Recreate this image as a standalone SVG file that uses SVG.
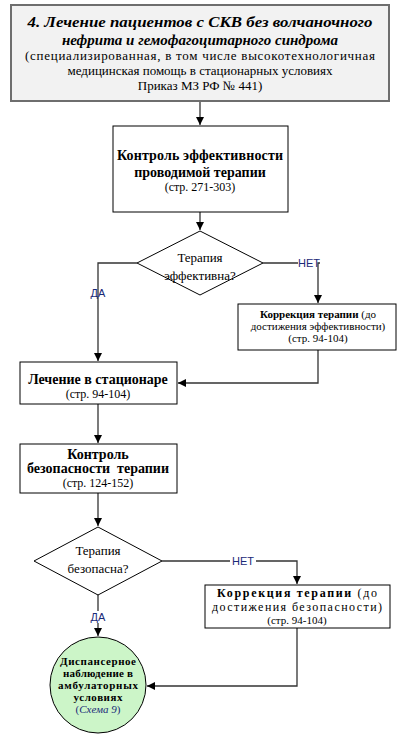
<svg xmlns="http://www.w3.org/2000/svg" width="398" height="739" viewBox="0 0 398 739">
<style>
text{font-family:"Liberation Serif","DejaVu Serif",serif;fill:#000;text-anchor:middle}
.b{font-weight:bold}
.t{font-size:15px;font-weight:bold;font-style:italic}
.s{font-size:13px}
.s2{font-size:12px}
.m{font-size:14px}
.sm{font-size:12px}
.xs{font-size:11px}
.c{font-size:11px}
.lbl{font-family:"Liberation Sans","DejaVu Sans",sans-serif;font-size:11px;fill:#1a2a78}
.box{fill:#fff;stroke:#000;stroke-width:1}
.ln{fill:none;stroke:#333;stroke-width:1.3}
</style>
<defs>
<marker id="ah" viewBox="0 0 10 10" refX="10" refY="5" markerWidth="8" markerHeight="8" markerUnits="userSpaceOnUse" orient="auto">
<path d="M0,0 L10,5 L0,10 z" fill="#000"/>
</marker>
</defs>
<g id="connectors">
<path class="ln" d="M200,101 V125" marker-end="url(#ah)"/>
<path class="ln" d="M200,212 V230" marker-end="url(#ah)"/>
<path class="ln" d="M137,263 H98 V361" marker-end="url(#ah)"/>
<path class="ln" d="M263,263 H298 M320,263 H318 V303" marker-end="url(#ah)"/>
<path class="ln" d="M318,350 V383 H178" marker-end="url(#ah)"/>
<path class="ln" d="M98,404 V443" marker-end="url(#ah)"/>
<path class="ln" d="M98,493 V526" marker-end="url(#ah)"/>
<path class="ln" d="M162,561 H230 M256,561 H297 V584" marker-end="url(#ah)"/>
<path class="ln" d="M98,594 V611 M98,623 V636" marker-end="url(#ah)"/>
<path class="ln" d="M297,628 V686 H147" marker-end="url(#ah)"/>
<text class="lbl" x="98" y="297">ДА</text>
<text class="lbl" x="309" y="267">НЕТ</text>
<text class="lbl" x="243" y="565">НЕТ</text>
<text class="lbl" x="98" y="621">ДА</text>
</g>
<g id="title">
<rect x="11" y="5" width="378" height="96" fill="#f2f2f2" stroke="#6e6e6e" stroke-width="2"/>
<text class="t" x="200" y="27" textLength="345" lengthAdjust="spacingAndGlyphs">4. Лечение пациентов с СКВ без волчаночного</text>
<text class="t" x="200" y="45">нефрита и гемофагоцитарного синдрома</text>
<text class="s" x="200" y="60" textLength="350" lengthAdjust="spacing">(специализированная, в том числе высокотехнологичная</text>
<text class="s" x="200" y="75">медицинская помощь в стационарных условиях</text>
<text class="s" x="200" y="90">Приказ МЗ РФ № 441)</text>
</g>
<g id="control-eff">
<rect class="box" x="113" y="126" width="175" height="86"/>
<text class="m b" x="200" y="160" textLength="166" lengthAdjust="spacing">Контроль эффективности</text>
<text class="m b" x="200" y="177">проводимой терапии</text>
<text class="sm" x="200" y="191">(стр. 271-303)</text>
</g>
<g id="dec-eff">
<polygon points="200,231 263,263 200,295 137,263" fill="#fff" stroke="#000" stroke-width="1"/>
<text class="s" x="200" y="262">Терапия</text>
<text class="s" x="200" y="280">эффективна?</text>
</g>
<g id="corr-eff">
<rect class="box" x="238" y="304" width="158" height="46"/>
<text class="xs" x="318" y="318"><tspan class="b">Коррекция терапии</tspan> (до</text>
<text class="xs" x="318" y="330">достижения эффективности)</text>
<text class="xs" x="318" y="342">(стр. 94-104)</text>
</g>
<g id="hosp">
<rect class="box" x="20" y="362" width="157" height="42"/>
<text class="m b" x="98" y="384">Лечение в стационаре</text>
<text class="sm" x="98" y="398">(стр. 94-104)</text>
</g>
<g id="control-safe">
<rect class="box" x="20" y="444" width="157" height="49"/>
<text class="m b" x="98" y="459">Контроль</text>
<text class="m b" x="98" y="473" xml:space="preserve">безопасности  терапии</text>
<text class="sm" x="98" y="487">(стр. 124-152)</text>
</g>
<g id="dec-safe">
<polygon points="98,527 162,561 98,595 34,561" fill="#fff" stroke="#000" stroke-width="1"/>
<text class="s" x="98" y="555">Терапия</text>
<text class="s" x="98" y="573">безопасна?</text>
</g>
<g id="corr-safe">
<rect class="box" x="205" y="585" width="185" height="43"/>
<text class="s2" x="297" y="597" textLength="160" lengthAdjust="spacing"><tspan class="b">Коррекция терапии</tspan> (до</text>
<text class="s2" x="297" y="611" textLength="170" lengthAdjust="spacing">достижения безопасности)</text>
<text class="xs" x="297" y="624">(стр. 94-104)</text>
</g>
<g id="dispensary">
<circle cx="98" cy="685" r="48" fill="#ccf5c8" stroke="#000" stroke-width="1"/>
<text class="c b" x="98" y="665" textLength="76" lengthAdjust="spacing">Диспансерное</text>
<text class="c b" x="98" y="677" textLength="70" lengthAdjust="spacing">наблюдение в</text>
<text class="c b" x="98" y="689" textLength="80" lengthAdjust="spacing">амбулаторных</text>
<text class="c b" x="98" y="701" textLength="49" lengthAdjust="spacing">условиях</text>
<text class="c" x="98" y="713" style="fill:#1a2a78">(<tspan font-style="italic">Схема 9</tspan>)</text>
</g>
</svg>
